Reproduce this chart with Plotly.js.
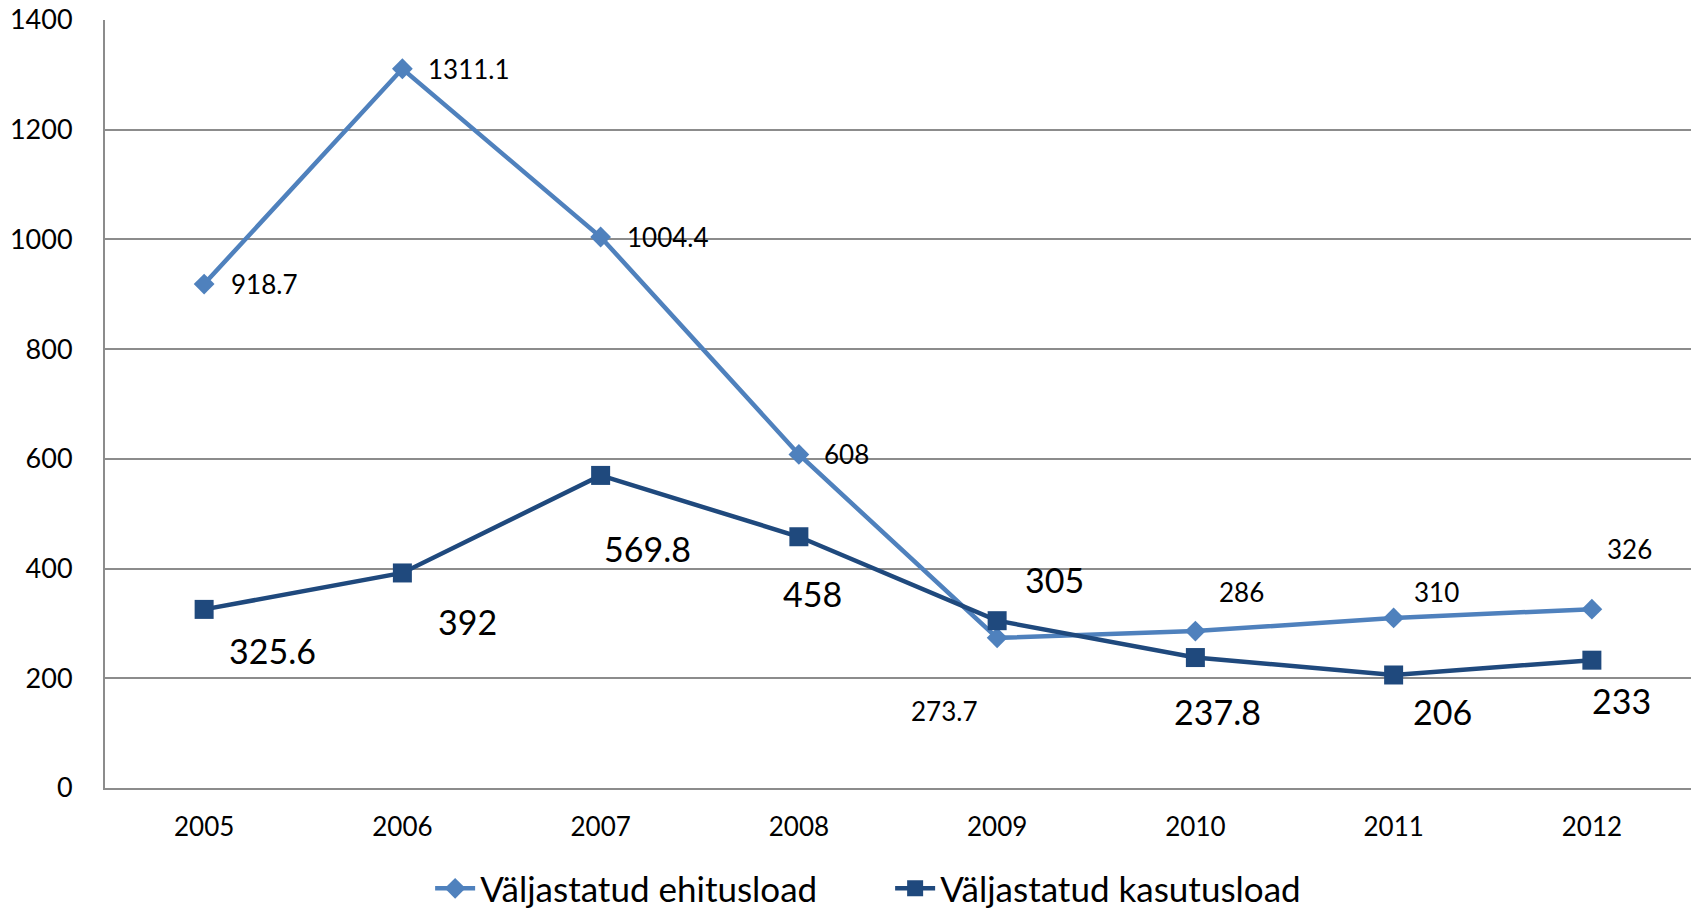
<!DOCTYPE html>
<html>
<head>
<meta charset="utf-8">
<script src="https://cdn.plot.ly/plotly-3.0.1.min.js"></script>
<style>
html,body{margin:0;padding:0;background:#fff;}
#chart{width:1696px;height:911px;}
</style>
</head>
<body>
<div id="chart"></div>
<script>
// Data
var years = ["2005","2006","2007","2008","2009","2010","2011","2012"];
var ehitusload = [918.7, 1311.1, 1004.4, 608, 273.7, 286, 310, 326];
var kasutusload = [325.6, 392, 569.8, 458, 305, 237.8, 206, 233];
var seriesNames = ["Väljastatud ehitusload", "Väljastatud kasutusload"];
var yTicks = [0, 200, 400, 600, 800, 1000, 1200, 1400];

// Label offsets (pixels, layout only)
var lab1dx = [60, 67, 67, 48, -53, 46, 43, 38];
var lab1dy = [0, 0, 0, 0, 73, -39, -26, -60];
var lab2dx = [68, 65, 47, 14, 57, 22, 49, 30];
var lab2dy = [41, 49, 73, 57, -41, 54, 37, 40];

var c1 = "#4F81BD", c2 = "#1F497D";
var FONT = "Lato";

var traces = [
  {x: years, y: ehitusload, name: seriesNames[0], type: "scatter", mode: "lines+markers",
   line: {color: c1, width: 4.5}, marker: {symbol: "diamond", size: 16, color: c1}},
  {x: years, y: kasutusload, name: seriesNames[1], type: "scatter", mode: "lines+markers",
   line: {color: c2, width: 4.5}, marker: {symbol: "square", size: 19, color: c2}}
];

var annotations = [];
for (var i = 0; i < years.length; i++) {
  annotations.push({x: i, y: ehitusload[i], xref: "x", yref: "y", text: String(ehitusload[i]),
    showarrow: false, xanchor: "center", yanchor: "middle", xshift: lab1dx[i], yshift: -lab1dy[i],
    font: {family: FONT, size: 26, color: "#000000"}});
  annotations.push({x: i, y: kasutusload[i], xref: "x", yref: "y", text: String(kasutusload[i]),
    showarrow: false, xanchor: "center", yanchor: "middle", xshift: lab2dx[i], yshift: -lab2dy[i],
    font: {family: FONT, size: 34, color: "#000000"}});
}

var layout = {
  width: 1696, height: 911,
  margin: {l: 105, r: 5, t: 20, b: 123, autoexpand: false},
  paper_bgcolor: "#ffffff", plot_bgcolor: "#ffffff",
  font: {family: FONT, color: "#000000"},
  showlegend: true,
  legend: {orientation: "h", x: 0.205, xanchor: "left", y: -0.131, yanchor: "middle",
    font: {family: FONT, size: 35, color: "#000000"}, itemwidth: 40, entrywidth: 405},
  xaxis: {type: "category", range: [-0.5, 7.5], showgrid: false, zeroline: false,
    showline: true, linecolor: "#8c8c8c", linewidth: 2, ticks: "", ticklabelstandoff: 15,
    tickfont: {family: FONT, size: 26, color: "#000000"}, fixedrange: true},
  yaxis: {range: [0, 1400], tickvals: yTicks, ticktext: yTicks.map(String), showgrid: true,
    gridcolor: "#8c8c8c", gridwidth: 1.5, zeroline: false, showline: true, linecolor: "#8c8c8c",
    linewidth: 2, ticks: "", ticklabelstandoff: 25,
    tickfont: {family: FONT, size: 27, color: "#000000"}, fixedrange: true},
  annotations: annotations
};

Plotly.newPlot("chart", traces, layout, {displayModeBar: false});
</script>
</body>
</html>
